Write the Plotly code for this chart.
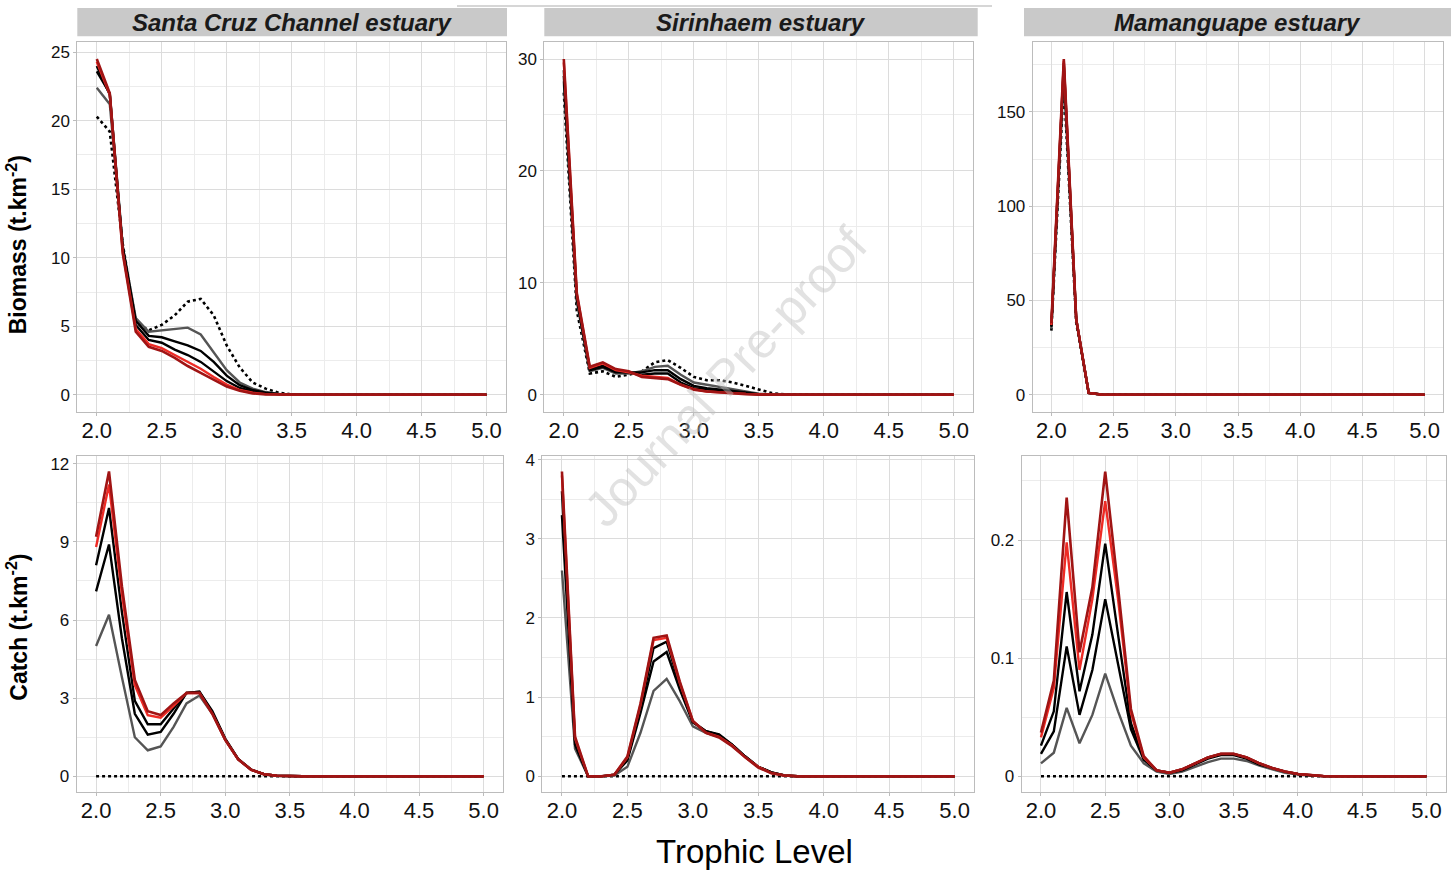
import plotly.graph_objects as go

W, H = 1451, 872

# ---------------- data ----------------
TL = [2.0, 2.1, 2.2, 2.3, 2.4, 2.5, 2.6, 2.7, 2.8, 2.9, 3.0, 3.1, 3.2, 3.3, 3.4, 3.5,
      3.6, 3.7, 3.8, 3.9, 4.0, 4.1, 4.2, 4.3, 4.4, 4.5, 4.6, 4.7, 4.8, 4.9, 5.0]

estuaries = ["Santa Cruz Channel estuary", "Sirinhaem estuary", "Mamanguape estuary"]
x_ticks = [2.0, 2.5, 3.0, 3.5, 4.0, 4.5, 5.0]
x_tick_text = ["2.0", "2.5", "3.0", "3.5", "4.0", "4.5", "5.0"]

Z = 0.0
# Biomass - Santa Cruz Channel
sc_bio_dotted = [20.3, 19.2, 11.0, 5.3, 4.7, 5.1, 5.8, 6.8, 7.0, 5.8, 3.6, 2.0, 0.9, 0.45, 0.15, 0.03] + [Z] * 15
sc_bio_gray = [22.4, 21.2, 10.8, 5.6, 4.6, 4.7, 4.8, 4.9, 4.4, 3.1, 1.8, 0.9, 0.45, 0.2, 0.06, 0.01] + [Z] * 15
sc_bio_black1 = [23.6, 22.0, 10.8, 5.4, 4.3, 4.2, 3.9, 3.6, 3.2, 2.4, 1.4, 0.7, 0.35, 0.15, 0.05, 0.01] + [Z] * 15
sc_bio_black2 = [24.0, 21.9, 10.6, 5.1, 4.0, 3.8, 3.3, 2.9, 2.4, 1.7, 1.0, 0.5, 0.25, 0.1, 0.03, 0.0] + [Z] * 15
sc_bio_red = [24.3, 21.9, 10.4, 4.8, 3.7, 3.4, 2.9, 2.4, 1.9, 1.3, 0.75, 0.35, 0.15, 0.05, 0.01, 0.0] + [Z] * 15
sc_bio_darkred = [24.5, 22.0, 10.3, 4.6, 3.5, 3.2, 2.7, 2.1, 1.6, 1.1, 0.6, 0.3, 0.1, 0.03, 0.01, 0.0] + [Z] * 15

# Biomass - Sirinhaem
si_bio_dotted = [27.0, 7.5, 1.9, 2.1, 1.6, 1.8, 2.1, 2.9, 3.1, 2.4, 1.6, 1.3, 1.3, 1.1, 0.8, 0.45, 0.15, 0.03] + [Z] * 13
si_bio_gray = [28.0, 8.3, 2.1, 2.4, 1.9, 1.9, 2.1, 2.5, 2.6, 1.8, 1.1, 0.9, 0.7, 0.5, 0.3, 0.1, 0.03, 0.0] + [Z] * 13
si_bio_black1 = [28.5, 8.6, 2.2, 2.5, 2.0, 2.0, 2.0, 2.2, 2.2, 1.4, 0.8, 0.6, 0.5, 0.35, 0.2, 0.06, 0.01, 0.0] + [Z] * 13
si_bio_black2 = [29.0, 8.8, 2.3, 2.6, 2.1, 2.0, 1.8, 1.9, 1.9, 1.1, 0.6, 0.45, 0.35, 0.25, 0.12, 0.04, 0.01, 0.0] + [Z] * 13
si_bio_red = [29.7, 9.0, 2.4, 2.8, 2.2, 2.0, 1.7, 1.6, 1.5, 0.9, 0.5, 0.3, 0.25, 0.15, 0.08, 0.02, 0.0, 0.0] + [Z] * 13
si_bio_darkred = [30.0, 9.1, 2.5, 2.9, 2.3, 2.1, 1.6, 1.5, 1.4, 0.9, 0.45, 0.3, 0.2, 0.12, 0.06, 0.02, 0.0, 0.0] + [Z] * 13

# Biomass - Mamanguape
ma_bio_dotted = [34.0, 165.0, 38.0, 1.0, 0.2] + [Z] * 26
ma_bio_gray = [35.0, 170.0, 39.0, 1.0, 0.2] + [Z] * 26
ma_bio_black1 = [36.0, 174.0, 40.0, 1.0, 0.2] + [Z] * 26
ma_bio_black2 = [36.5, 176.0, 40.0, 1.0, 0.2] + [Z] * 26
ma_bio_red = [37.0, 177.0, 40.0, 1.0, 0.2] + [Z] * 26
ma_bio_darkred = [38.0, 178.0, 40.0, 1.0, 0.2] + [Z] * 26

# Catch - Santa Cruz Channel
sc_cat_dotted = [Z] * 31
sc_cat_gray = [5.0, 6.2, 3.8, 1.5, 1.0, 1.15, 1.9, 2.8, 3.1, 2.4, 1.4, 0.65, 0.25, 0.08, 0.02] + [Z] * 16
sc_cat_black1 = [7.1, 8.9, 5.3, 2.4, 1.6, 1.7, 2.4, 3.2, 3.25, 2.5, 1.45, 0.67, 0.26, 0.08, 0.02] + [Z] * 16
sc_cat_black2 = [8.1, 10.3, 6.3, 2.9, 2.0, 2.0, 2.6, 3.2, 3.25, 2.45, 1.42, 0.66, 0.25, 0.08, 0.02] + [Z] * 16
sc_cat_red = [8.8, 11.2, 7.0, 3.5, 2.35, 2.25, 2.7, 3.2, 3.2, 2.4, 1.4, 0.65, 0.25, 0.08, 0.02] + [Z] * 16
sc_cat_darkred = [9.2, 11.7, 7.3, 3.7, 2.5, 2.35, 2.8, 3.2, 3.2, 2.4, 1.4, 0.65, 0.25, 0.08, 0.02] + [Z] * 16

# Catch - Sirinhaem
si_cat_dotted = [Z] * 31
si_cat_gray = [2.6, 0.35, 0.0, 0.0, 0.01, 0.12, 0.55, 1.08, 1.23, 0.95, 0.63, 0.55, 0.5, 0.4, 0.25, 0.12, 0.05, 0.01] + [Z] * 13
si_cat_black1 = [3.3, 0.4, 0.0, 0.0, 0.02, 0.2, 0.8, 1.45, 1.57, 1.1, 0.68, 0.57, 0.53, 0.4, 0.25, 0.12, 0.05, 0.01] + [Z] * 13
si_cat_black2 = [3.6, 0.45, 0.0, 0.0, 0.02, 0.22, 0.85, 1.62, 1.70, 1.15, 0.69, 0.57, 0.52, 0.4, 0.25, 0.12, 0.05, 0.01] + [Z] * 13
si_cat_red = [3.8, 0.48, 0.0, 0.0, 0.02, 0.24, 0.9, 1.72, 1.75, 1.18, 0.7, 0.55, 0.5, 0.39, 0.24, 0.12, 0.04, 0.01] + [Z] * 13
si_cat_darkred = [3.85, 0.5, 0.0, 0.0, 0.02, 0.25, 0.92, 1.75, 1.78, 1.2, 0.7, 0.55, 0.49, 0.38, 0.24, 0.11, 0.04, 0.01] + [Z] * 13

# Catch - Mamanguape
ma_cat_dotted = [Z] * 31
ma_cat_gray = [0.011, 0.020, 0.058, 0.028, 0.052, 0.087, 0.055, 0.026, 0.011, 0.004, 0.002, 0.004, 0.008, 0.012,
               0.015, 0.015, 0.013, 0.009, 0.006, 0.003, 0.0015, 0.0005, 0.0001] + [Z] * 8
ma_cat_black1 = [0.019, 0.038, 0.110, 0.052, 0.090, 0.150, 0.095, 0.040, 0.014, 0.005, 0.003, 0.005, 0.010, 0.015,
                 0.018, 0.018, 0.015, 0.010, 0.007, 0.004, 0.002, 0.0007, 0.0002] + [Z] * 8
ma_cat_black2 = [0.026, 0.055, 0.156, 0.072, 0.120, 0.197, 0.120, 0.045, 0.015, 0.005, 0.003, 0.006, 0.011, 0.016,
                 0.019, 0.019, 0.016, 0.011, 0.007, 0.004, 0.002, 0.0008, 0.0002] + [Z] * 8
ma_cat_red = [0.033, 0.075, 0.198, 0.090, 0.150, 0.233, 0.150, 0.054, 0.016, 0.005, 0.003, 0.006, 0.011, 0.016,
              0.019, 0.019, 0.016, 0.011, 0.007, 0.004, 0.002, 0.0008, 0.0002] + [Z] * 8
ma_cat_darkred = [0.037, 0.081, 0.236, 0.105, 0.160, 0.258, 0.160, 0.057, 0.017, 0.005, 0.003, 0.006, 0.011, 0.016,
                  0.019, 0.019, 0.016, 0.011, 0.007, 0.004, 0.002, 0.0008, 0.0002] + [Z] * 8

panels = [
    [sc_bio_dotted, sc_bio_gray, sc_bio_black1, sc_bio_black2, sc_bio_red, sc_bio_darkred],
    [si_bio_dotted, si_bio_gray, si_bio_black1, si_bio_black2, si_bio_red, si_bio_darkred],
    [ma_bio_dotted, ma_bio_gray, ma_bio_black1, ma_bio_black2, ma_bio_red, ma_bio_darkred],
    [sc_cat_dotted, sc_cat_gray, sc_cat_black1, sc_cat_black2, sc_cat_red, sc_cat_darkred],
    [si_cat_dotted, si_cat_gray, si_cat_black1, si_cat_black2, si_cat_red, si_cat_darkred],
    [ma_cat_dotted, ma_cat_gray, ma_cat_black1, ma_cat_black2, ma_cat_red, ma_cat_darkred],
]

# ---------------- styling ----------------
series_styles = [
    dict(color="#000000", dash="dot", width=2.6),
    dict(color="#555555", dash="solid", width=2.4),
    dict(color="#000000", dash="solid", width=2.4),
    dict(color="#000000", dash="solid", width=2.4),
    dict(color="#ee2b25", dash="solid", width=2.4),
    dict(color="#a01414", dash="solid", width=2.6),
]

# panel pixel boxes: (left, right, top, bottom)
boxes = [
    (77.3, 506.0, 36.5, 408.4),
    (544.3, 973.3, 36.5, 408.4),
    (1032.7, 1443.3, 36.5, 408.4),
    (76.7, 503.0, 453.4, 791.0),
    (542.3, 974.3, 453.4, 791.0),
    (1021.7, 1445.7, 453.4, 791.0),
]
y_dticks = [5, 10, 50, 3, 1, 0.1]
y_ranges = [(-1.225, 25.725), (-1.5, 31.5), (-8.9, 186.9), (-0.585, 12.285), (-0.1925, 4.0425), (-0.0129, 0.2709)]

FONT = "Liberation Sans, Arial, sans-serif"
GRID = "#dcdcdc"
MINOR = "#ececec"
BORDER = "#bcbcbc"

fig = go.Figure()

for k in range(6):
    ax = "" if k == 0 else str(k + 1)
    for s, ys in enumerate(panels[k]):
        st = series_styles[s]
        fig.add_trace(go.Scatter(
            x=TL, y=ys, mode="lines",
            line=dict(color=st["color"], dash=st["dash"], width=st["width"]),
            xaxis="x" + ax, yaxis="y" + ax, showlegend=False, hoverinfo="skip",
        ))
    l, r, t, b = boxes[k]
    fig.layout["xaxis" + ax] = dict(
        domain=[l / W, r / W], anchor="y" + ax, range=[1.85, 5.15],
        tickmode="array", tickvals=x_ticks, ticktext=x_tick_text,
        showgrid=True, gridcolor=GRID, gridwidth=1,
        minor=dict(tickmode="array", tickvals=[2.25, 2.75, 3.25, 3.75, 4.25, 4.75],
                   showgrid=True, gridcolor=MINOR, gridwidth=1, ticks=""),
        zeroline=False, showline=True, linecolor=BORDER, linewidth=1, mirror=True,
        ticks="outside", ticklen=3, tickcolor=BORDER, ticklabelstandoff=-4,
        tickfont=dict(family=FONT, size=22, color="#111111"),
    )
    fig.layout["yaxis" + ax] = dict(
        domain=[1 - b / H, 1 - t / H], anchor="x" + ax, range=list(y_ranges[k]),
        dtick=y_dticks[k], tick0=0,
        showgrid=True, gridcolor=GRID, gridwidth=1,
        minor=dict(dtick=y_dticks[k] / 2, tick0=0, showgrid=True, gridcolor=MINOR, gridwidth=1, ticks=""),
        zeroline=False, showline=True, linecolor=BORDER, linewidth=1, mirror=True,
        ticks="outside", ticklen=3, tickcolor=BORDER,
        tickfont=dict(family=FONT, size=17, color="#111111"),
    )

shapes = []
annotations = []

# facet strips
strips = [(77.3, 507.0), (544.3, 977.7), (1024.0, 1451.0)]
for (l, r), name in zip(strips, estuaries):
    shapes.append(dict(type="rect", xref="paper", yref="paper",
                       x0=l / W, x1=r / W, y0=1 - 30.4 / H, y1=1 - 1.9 / H,
                       fillcolor="#c9c9c9", line=dict(width=0), layer="below"))
    annotations.append(dict(text="<b><i>" + name + "</i></b>", xref="paper", yref="paper",
                            x=(l + r) / 2 / W, y=1 - 16.2 / H, showarrow=False,
                            xanchor="center", yanchor="middle",
                            font=dict(family=FONT, size=24, color="#1a1a1a")))

# thin cut-off box line at the very top
shapes.append(dict(type="line", xref="paper", yref="paper",
                   x0=457 / W, x1=992 / W, y0=1, y1=1,
                   line=dict(color="#d6d6d6", width=2)))

# axis titles
annotations.append(dict(text="<b>Biomass (t.km<sup>-2</sup>)</b>", xref="paper", yref="paper",
                        x=17 / W, y=1 - 241 / H, showarrow=False, textangle=-90,
                        xanchor="center", yanchor="middle",
                        font=dict(family=FONT, size=23, color="#000000")))
annotations.append(dict(text="<b>Catch (t.km<sup>-2</sup>)</b>", xref="paper", yref="paper",
                        x=17 / W, y=1 - 626 / H, showarrow=False, textangle=-90,
                        xanchor="center", yanchor="middle",
                        font=dict(family=FONT, size=23, color="#000000")))
annotations.append(dict(text="Trophic Level", xref="paper", yref="paper",
                        x=755 / W, y=1 - 851 / H, showarrow=False,
                        xanchor="center", yanchor="middle",
                        font=dict(family=FONT, size=33, color="#000000")))

# watermark
annotations.append(dict(text="Journal Pre-proof", xref="paper", yref="paper",
                        x=726 / W, y=1 - 374 / H, showarrow=False, textangle=-47,
                        xanchor="center", yanchor="middle",
                        font=dict(family=FONT, size=50, color="rgba(190,190,190,0.45)")))

fig.update_layout(
    width=W, height=H, margin=dict(l=0, r=0, t=0, b=0),
    paper_bgcolor="white", plot_bgcolor="white",
    shapes=shapes, annotations=annotations, showlegend=False,
)

fig.write_html("out.html",
               post_script="document.body.style.margin='0';document.body.style.padding='0';")
